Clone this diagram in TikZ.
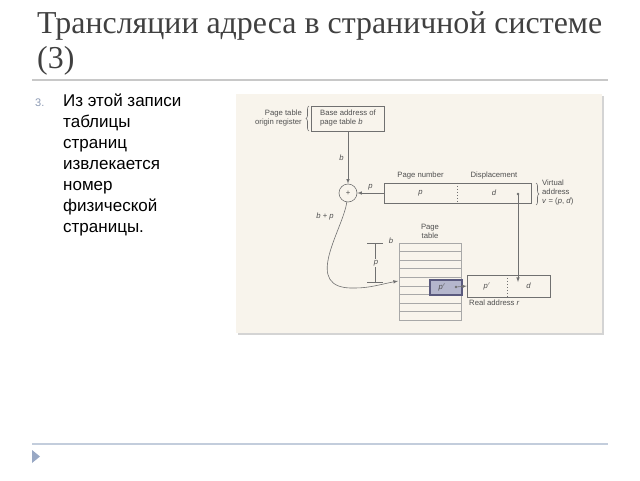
\documentclass[tikz,border=0pt]{standalone}
\usepackage{fontspec}
\setmainfont{Liberation Serif}
\newfontfamily\sansru{Liberation Sans}
\usetikzlibrary{arrows,decorations.pathreplacing}
\usetikzlibrary{positioning}

\definecolor{titlegray}{HTML}{404040}
\definecolor{rulegray}{HTML}{C8C8C8}
\definecolor{rulebluegray}{HTML}{C3CDDC}
\definecolor{bulletblue}{HTML}{98A8C4}
\definecolor{numgray}{HTML}{8C9AB4}
\definecolor{papercream}{HTML}{F8F4EC}
\definecolor{papershadow}{HTML}{D4D4D4}
\definecolor{inkgray}{HTML}{707070}
\definecolor{textgray}{HTML}{505050}
\definecolor{rowgray}{HTML}{A8A8A8}
\definecolor{entryfill}{HTML}{B4B6CC}
\definecolor{entryedge}{HTML}{5A5A7E}

\tikzset{
    figtext/.style={font=\sansru\fontsize{7.7}{9}\selectfont, text=textgray, inner sep=0pt},
    field/.style={figtext, minimum height=20pt},
    figline/.style={draw=inkgray, line width=0.6pt},
    figarrow/.style={figline, -latex},
    figbrace/.style={figline, decorate, decoration={brace, amplitude=3pt}},
}

\begin{document}
\begin{tikzpicture}[x=1pt, y=-1pt]
    \useasboundingbox (0,0) rectangle (640,480);

    % slide title and rules
    \node[anchor=base west, inner sep=0pt, text=titlegray, font=\fontsize{31.9}{35}\selectfont]
        (title) at (37,33) {Трансляции адреса в страничной системе};
    \node[anchor=base west, inner sep=0pt, text=titlegray, font=\fontsize{31.9}{35}\selectfont]
        (titlenum) at (37,68) {(3)};
    \draw[rulegray, line width=1.5pt] (32,80) -- (608,80);
    \draw[rulebluegray, line width=1.5pt] (32,444) -- (608,444);
    \fill[bulletblue] (32,450) -- (40,456.5) -- (32,463) -- cycle;

    % item text
    \node[anchor=base west, inner sep=0pt, text=numgray, font=\sansru\fontsize{11}{13}\selectfont]
        (itemnum) at (35,106) {3.};
    \node[anchor=north west, inner sep=0pt, align=left, font=\sansru\fontsize{17}{21}\selectfont]
        (itemtext) at (63,94) {Из этой записи\\таблицы\\страниц\\извлекается\\номер\\физической\\страницы.};

    % scanned figure
    \fill[papershadow] (238,96) rectangle (604,335);
    \fill[papercream] (236,94) rectangle (602,333);

    \node[figtext, anchor=east, align=right] (ptreg) at (302,118) {Page table\\origin register};
    \draw[figbrace] (309,131) -- (309,106);
    \node[figtext, figline, align=left, minimum width=73pt, minimum height=25pt, inner xsep=4pt]
        (base) at (348,118.5) {Base address of\\page table \textit{b}};

    \node[figtext, figline, circle, minimum size=18pt] (sum) at (348,193) {+};
    \draw[figarrow] (base) -- (sum) node[figtext, midway, left=4pt] {\textit{b}};

    \node[field, minimum width=73pt] (vpage) at (420.5,193) {\textit{p}};
    \node[field, minimum width=74pt] (vdisp) at (494,193) {\textit{d}};
    \draw[figline] (vpage.north west) rectangle (vdisp.south east);
    \draw[figline, dashed, dash pattern=on 1.5pt off 1.5pt] (vpage.north east) -- (vpage.south east);
    \node[figtext, above=4pt of vpage] (pnlabel) {Page number};
    \node[figtext, above=4pt of vdisp] (displabel) {Displacement};
    \draw[figarrow] (vpage) -- (sum) node[figtext, midway, above=3pt] {\textit{p}};
    \draw[figbrace] (536,183) -- (536,205);
    \node[figtext, anchor=west, align=left] (vlabel) at (542,193) {Virtual\\address\\\textit{v} = (\textit{p}, \textit{d})};
    \coordinate (ddot) at (518,194);
    \fill[inkgray] (ddot) circle (1.4pt);

    % page table
    \node[figtext, align=center] (ptlabel) at (430,231) {Page\\table};
    \draw[rowgray, line width=0.5pt] (399,243) rectangle (461,320);
    \foreach \i in {1,...,8}
        \draw[rowgray, line width=0.5pt] (399,{243+8.55*\i}) -- (461,{243+8.55*\i});
    \node[figtext] (blabel) at (391,241) {\textit{b}};
    \coordinate (prow) at (398,281);

    % offset p into the table
    \draw[figline] (367,243) -- (383,243);
    \draw[figline] (367,282) -- (383,282);
    \draw[figline] (375,243) -- (375,282);
    \node[figtext, fill=papercream, inner sep=1pt] (plabel) at (376,263) {\textit{p}};

    \draw[figarrow] (sum) .. controls (343,230) and (300,290) .. (355,288)
        .. controls (370,288) and (382,284) .. (prow);
    \node[figtext] (bplabel) at (325,217) {\textit{b} + \textit{p}};

    % frame entry and real address
    \node[figtext, draw=entryedge, fill=entryfill, line width=1.2pt, minimum width=32pt, minimum height=15pt]
        (pentry) at (446,287.5) {\hspace*{-8pt}\textit{p}$'$};
    \coordinate (edot) at (456,287);
    \fill[inkgray] (edot) circle (1.4pt);

    \node[field, minimum width=40pt, minimum height=22pt] (rpage) at (487,286) {\textit{p}$'$};
    \node[field, minimum width=43pt, minimum height=22pt] (rdisp) at (528.5,286) {\textit{d}};
    \draw[figline] (rpage.north west) rectangle (rdisp.south east);
    \draw[figline, dashed, dash pattern=on 1.5pt off 1.5pt] (rpage.north east) -- (rpage.south east);
    \node[figtext, anchor=north west] (rlabel) at (469,300) {Real address \textit{r}};

    \coordinate (rtop) at (518,282);
    \draw[figarrow] (edot) -- (rpage.west);
    \draw[figarrow] (ddot) -- (rtop);
\end{tikzpicture}
\end{document}
